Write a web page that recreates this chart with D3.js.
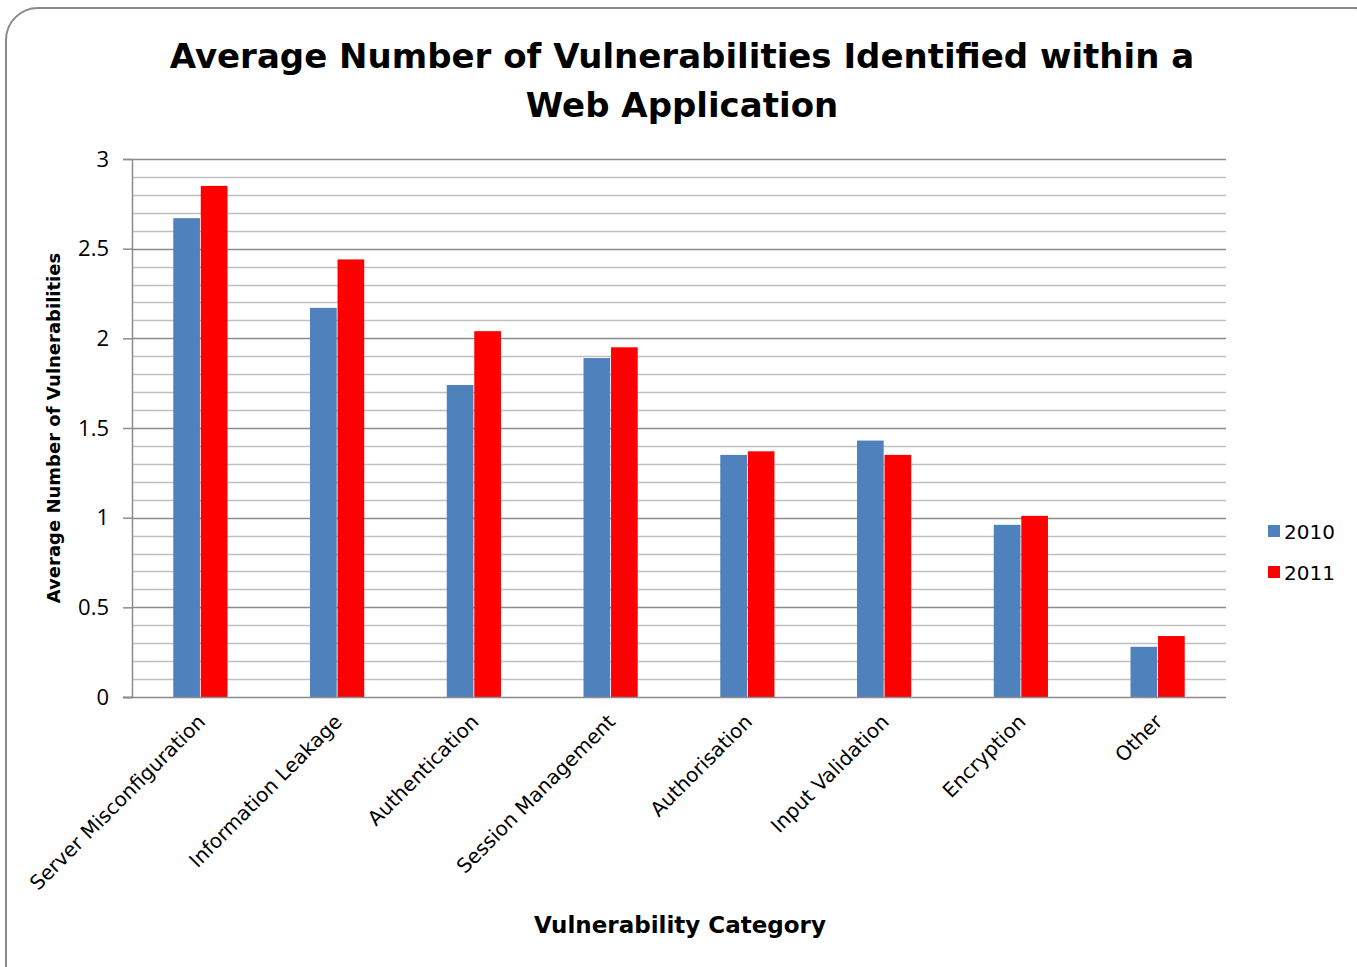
<!DOCTYPE html>
<html>
<head>
<meta charset="utf-8">
<script src="https://cdn.jsdelivr.net/npm/d3@7"></script>
<style>
  body { margin: 0; background: #fff; }
</style>
</head>
<body>
<div id="chart"></div>
<script>
// data
const categories = ["Server Misconfiguration", "Information Leakage", "Authentication",
  "Session Management", "Authorisation", "Input Validation", "Encryption", "Other"];
const years = ["2010", "2011"];
const values2010 = [2.67, 2.17, 1.74, 1.89, 1.35, 1.43, 0.96, 0.28];
const values2011 = [2.85, 2.44, 2.04, 1.95, 1.37, 1.35, 1.01, 0.34];
const yTicks = [0, 0.5, 1, 1.5, 2, 2.5, 3];
const colors = ["#4f81bd", "#ff0000"];

const width = 1357, height = 967;
const margin = { top: 159, bottom: 270, left: 132, right: 131 };

const svg = d3.select("#chart").append("svg")
  .attr("width", width)
  .attr("height", height);

// frame
svg.append("rect")
  .attr("x", 6).attr("y", 8)
  .attr("width", 1380).attr("height", 1000)
  .attr("rx", 32).attr("ry", 32)
  .attr("fill", "#fff")
  .attr("stroke", "#8a8a8a")
  .attr("stroke-width", 2);

const x = d3.scaleBand()
  .domain(categories)
  .range([margin.left, width - margin.right]);

const xs = d3.scaleBand()
  .domain(years)
  .range([0, x.bandwidth()])
  .paddingInner(0.03)
  .paddingOuter(1.5);

const y = d3.scaleLinear()
  .domain([0, 3])
  .range([height - margin.bottom, margin.top]);

// minor gridlines every 0.1
const minor = d3.range(1, 30).map(d => d / 10).filter(d => Math.abs(d * 2 - Math.round(d * 2)) > 0.01);
svg.append("g")
  .selectAll("line")
  .data(minor)
  .join("line")
  .attr("x1", margin.left).attr("x2", width - margin.right)
  .attr("y1", d => Math.round(y(d)) + 0.5).attr("y2", d => Math.round(y(d)) + 0.5)
  .attr("stroke", "#c0c0c0")
  .attr("stroke-width", 1.5);

// major gridlines
svg.append("g")
  .selectAll("line")
  .data(yTicks.slice(1))
  .join("line")
  .attr("x1", margin.left).attr("x2", width - margin.right)
  .attr("y1", d => Math.round(y(d)) + 0.5).attr("y2", d => Math.round(y(d)) + 0.5)
  .attr("stroke", "#8c8c8c")
  .attr("stroke-width", 1.5);

// bars
const series = [values2010, values2011];
const groups = svg.append("g")
  .selectAll("g")
  .data(categories)
  .join("g")
  .attr("transform", d => `translate(${x(d)},0)`);

groups.selectAll("rect")
  .data((d, i) => years.map((yr, j) => ({ yr, v: series[j][i] })))
  .join("rect")
  .attr("x", d => xs(d.yr))
  .attr("width", xs.bandwidth())
  .attr("y", d => y(d.v))
  .attr("height", d => y(0) - y(d.v))
  .attr("fill", (d, j) => colors[j]);

// y axis
const yAxis = svg.append("g")
  .attr("transform", `translate(${margin.left},0)`)
  .call(d3.axisLeft(y).tickValues(yTicks).tickSize(9).tickPadding(14).tickFormat(d3.format("")));
yAxis.select(".domain").attr("stroke", "#8c8c8c").attr("stroke-width", 1.5);
yAxis.selectAll(".tick line").attr("stroke", "#8c8c8c").attr("stroke-width", 1.5);
yAxis.selectAll(".tick text").attr("fill", "#000")
  .style("font-size", "22px")
  .style("font-family", "'Open Sans', sans-serif");

// x axis line
svg.append("line")
  .attr("x1", margin.left - 9).attr("x2", width - margin.right)
  .attr("y1", y(0) + 0.5).attr("y2", y(0) + 0.5)
  .attr("stroke", "#8c8c8c")
  .attr("stroke-width", 1.5);

// category labels
svg.append("g")
  .selectAll("text")
  .data(categories)
  .join("text")
  .attr("transform", d => `translate(${x(d) + x.bandwidth() / 2 + 6},${y(0) + 26}) rotate(-45)`)
  .attr("text-anchor", "end")
  .style("font-size", "20px")
  .style("font-family", "'DejaVu Sans', sans-serif")
  .text(d => d);

// title
const title = svg.append("text")
  .attr("x", 682).attr("y", 68)
  .attr("text-anchor", "middle")
  .style("font-size", "34px")
  .style("font-weight", "bold")
  .style("font-family", "'DejaVu Sans', sans-serif");
title.append("tspan").attr("x", 682).text("Average Number of Vulnerabilities Identified within a");
title.append("tspan").attr("x", 682).attr("dy", 49).text("Web Application");

// axis titles
svg.append("text")
  .attr("x", 680).attr("y", 933)
  .attr("text-anchor", "middle")
  .style("font-size", "23px")
  .style("font-weight", "bold")
  .style("font-family", "'DejaVu Sans', sans-serif")
  .text("Vulnerability Category");

svg.append("text")
  .attr("transform", "translate(60,428) rotate(-90)")
  .attr("text-anchor", "middle")
  .style("font-size", "18px")
  .style("font-weight", "bold")
  .style("font-family", "'DejaVu Sans', sans-serif")
  .text("Average Number of Vulnerabilities");

// legend
const legend = svg.append("g")
  .selectAll("g")
  .data(years)
  .join("g")
  .attr("transform", (d, i) => `translate(1268,${525 + i * 41})`);
legend.append("rect")
  .attr("width", 12).attr("height", 12)
  .attr("fill", (d, i) => colors[i]);
legend.append("text")
  .attr("x", 16).attr("y", 14)
  .style("font-size", "20px")
  .style("font-family", "'DejaVu Sans', sans-serif")
  .text(d => d);
</script>
</body>
</html>
